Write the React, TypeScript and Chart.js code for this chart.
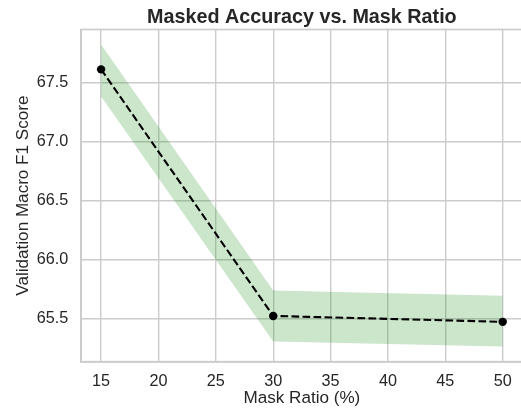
import React, { useEffect, useRef } from "react";
import { Chart, registerables } from "chart.js";

Chart.register(...registerables);

const maskRatios = [15, 30, 50];
const meanF1 = [67.61, 65.52, 65.47];
const upperF1 = [67.82, 65.736, 65.69];
const lowerF1 = [67.38, 65.304, 65.26];
const xTickValues = [15, 20, 25, 30, 35, 40, 45, 50];
const yTickValues = [65.5, 66.0, 66.5, 67.0, 67.5];

const TEXT = "#262626";
const GRID = "#cccccc";
const FONT = "'Liberation Sans', Arial, sans-serif";

const borderPlugin = {
  id: "frame",
  afterDatasetsDraw(chart: any) {
    const { ctx, chartArea } = chart;
    ctx.save();
    ctx.strokeStyle = GRID;
    ctx.lineWidth = 1.7;
    ctx.strokeRect(chartArea.left, chartArea.top, chartArea.right - chartArea.left, chartArea.bottom - chartArea.top);
    ctx.restore();
  },
};

export default function App() {
  const ref = useRef<HTMLCanvasElement | null>(null);

  useEffect(() => {
    if (!ref.current) return;
    const xSpan = maskRatios[maskRatios.length - 1] - maskRatios[0];
    const xMin = maskRatios[0] - 0.05 * xSpan;
    const xMax = maskRatios[maskRatios.length - 1] + 0.05 * xSpan;
    const lo = Math.min(...lowerF1);
    const hi = Math.max(...upperF1);
    const ySpan = hi - lo;
    const yMin = lo - 0.05 * ySpan;
    const yMax = hi + 0.05 * ySpan;

    const chart = new Chart(ref.current, {
      type: "line",
      data: {
        datasets: [
          {
            label: "upper",
            data: maskRatios.map((x, i) => ({ x, y: upperF1[i] })),
            borderWidth: 0,
            pointRadius: 0,
            backgroundColor: "rgba(0,128,0,0.2)",
            fill: "+1",
            order: 2,
          },
          {
            label: "lower",
            data: maskRatios.map((x, i) => ({ x, y: lowerF1[i] })),
            borderWidth: 0,
            pointRadius: 0,
            fill: false,
            order: 2,
          },
          {
            label: "mean",
            data: maskRatios.map((x, i) => ({ x, y: meanF1[i] })),
            borderColor: "#000000",
            borderWidth: 2.1,
            borderDash: [7.7, 3.3],
            pointRadius: 4.2,
            pointBackgroundColor: "#000000",
            pointBorderColor: "#000000",
            pointBorderWidth: 0,
            fill: false,
            order: 1,
          },
        ],
      },
      options: {
        responsive: false,
        animation: false,
        devicePixelRatio: 1,
        layout: { padding: { left: 0, right: 1, top: 0, bottom: 0 } },
        plugins: {
          legend: { display: false },
          tooltip: { enabled: false },
          title: {
            display: true,
            text: "Masked Accuracy vs. Mask Ratio",
            color: TEXT,
            fullSize: false,
            font: { family: FONT, size: 19.75, weight: "bold" },
            padding: { top: 5.3, bottom: 0.5 },
          },
        },
        scales: {
          x: {
            type: "linear",
            min: xMin,
            max: xMax,
            afterBuildTicks: (scale: any) => {
              scale.ticks = xTickValues.map((v) => ({ value: v }));
            },
            afterFit: (scale: any) => {
              scale.height = 50.3;
            },
            grid: { color: GRID, lineWidth: 1.4, drawTicks: false },
            border: { color: GRID, width: 1.7 },
            ticks: {
              color: TEXT,
              font: { family: FONT, size: 16.2 },
              padding: 10.2,
              maxRotation: 0,
              autoSkip: false,
              callback: (v: any) => String(v),
            },
            title: {
              display: true,
              text: "Mask Ratio (%)",
              color: TEXT,
              font: { family: FONT, size: 17.1 },
              padding: { top: 0, bottom: 3.3 },
            },
          },
          y: {
            type: "linear",
            min: yMin,
            max: yMax,
            afterBuildTicks: (scale: any) => {
              scale.ticks = yTickValues.map((v) => ({ value: v }));
            },
            afterFit: (scale: any) => {
              scale.width = 81;
            },
            grid: { color: GRID, lineWidth: 1.4, drawTicks: false },
            border: { color: GRID, width: 1.7 },
            ticks: {
              color: TEXT,
              font: { family: FONT, size: 16.2 },
              padding: 12.7,
              autoSkip: false,
              callback: (v: any) => Number(v).toFixed(1),
            },
            title: {
              display: true,
              text: "Validation Macro F1 Score",
              color: TEXT,
              font: { family: FONT, size: 17.1 },
              padding: { top: 13.5, bottom: 0 },
            },
          },
        },
      },
      plugins: [borderPlugin],
    });
    return () => chart.destroy();
  }, []);

  return (
    <div style={{ position: "absolute", left: 0, top: 0, width: 521, height: 412, overflow: "hidden", background: "#ffffff" }}>
      <canvas ref={ref} width={527} height={412} style={{ width: 527, height: 412, display: "block" }} />
    </div>
  );
}
